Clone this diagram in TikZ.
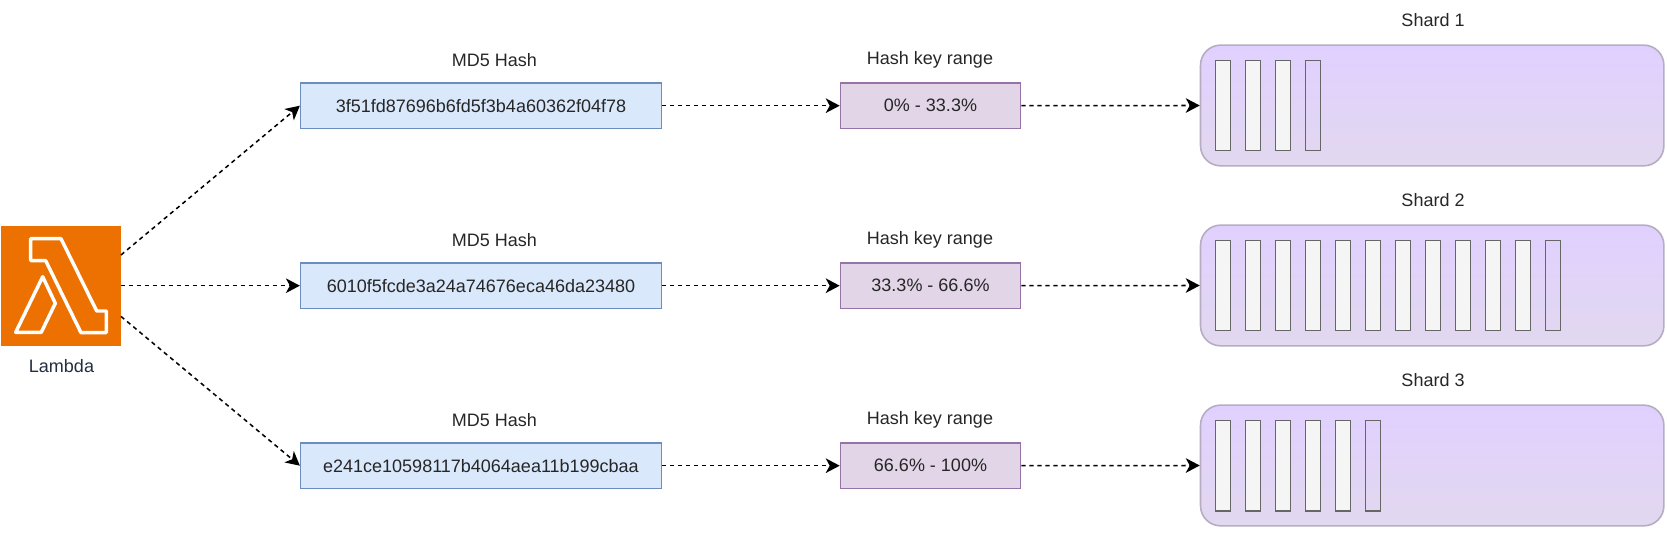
\documentclass[tikz,border=0pt]{standalone}
\usepackage{fontspec}
\setmainfont{Liberation Sans}
\usetikzlibrary{arrows.meta}
\definecolor{lambdaorange}{HTML}{ED7100}
\definecolor{lambdatext}{HTML}{232F3E}
\definecolor{hashfill}{HTML}{DAE8FC}
\definecolor{hashline}{HTML}{6C8EBF}
\definecolor{rangefill}{HTML}{E1D5E7}
\definecolor{rangeline}{HTML}{9673A6}
\definecolor{shardtop}{HTML}{E0D0FF}
\definecolor{shardbottom}{HTML}{E2D8EF}
\definecolor{shardline}{HTML}{B6ADC2}
\begin{document}
\begin{tikzpicture}[
	x=0.75pt, y=-0.75pt,
	lambdabox/.style={rectangle, fill=lambdaorange, minimum size=90pt, inner sep=0pt},
	hashbox/.style={rectangle, draw=hashline, fill=hashfill, line width=1.2pt, minimum width=270.5pt, minimum height=34pt, inner sep=0pt},
	rangebox/.style={rectangle, draw=rangeline, fill=rangefill, line width=1.2pt, minimum width=135pt, minimum height=34pt, inner sep=0pt},
	shardbox/.style={rectangle, rounded corners=15pt, draw=shardline, top color=shardtop, bottom color=shardbottom, line width=1.2pt, minimum width=347.5pt, minimum height=90.5pt, inner sep=0pt},
	barfull/.style={rectangle, draw=black!60, fill=black!4, line width=1.2pt, minimum width=11.5pt, minimum height=67.5pt, inner sep=0pt},
	barlast/.style={rectangle, draw=black!60, line width=1.2pt, minimum width=11.5pt, minimum height=67.5pt, inner sep=0pt},
	toplabel/.style={text=black!85, font=\fontsize{13.5}{16}\selectfont, inner sep=0pt},
	hasharrow/.style={-{Stealth[length=10.5pt,width=11pt,inset=3pt]}, black, line width=1.15pt, dash pattern=on 3.2pt off 2.8pt},
	]
	\useasboundingbox (0,0) rectangle (1667,534);

\node[lambdabox] (lambda) at (60.7,285.7) {};
\draw[white, line width=2.6pt, line join=round] (30.7,238.7) -- (61,238.7) -- (96.7,311) -- (106.3,311) -- (106.3,332.7) -- (81,332.7) -- (45.7,260.7) -- (30.7,260.7) -- cycle;
\draw[white, line width=2.6pt, line join=round] (42.7,276.7) -- (55.3,303.3) -- (41.3,332.3) -- (15.7,332.3) -- cycle;
\node[toplabel, text=lambdatext] (lambdalabel) at (61.5,366) {Lambda};

% first row
\node[toplabel] (hashlabel1) at (494.5,60) {MD5 Hash};
\node[hashbox, toplabel] (hash1) at (481,105.7) {3f51fd87696b6fd5f3b4a60362f04f78};
\node[toplabel] (rangelabel1) at (930,60) {Hash key range};
\node[rangebox, toplabel] (range1) at (930.5,105.7) {0\% - 33.3\%};
\node[toplabel] (shardlabel1) at (1433,20) {Shard 1};
\node[shardbox] (shard1) at (1432.2,105.5) {};
\node[barfull] (bar11) at (1223,105.7) {};
\node[barfull] (bar12) at (1253,105.7) {};
\node[barfull] (bar13) at (1283,105.7) {};
\node[barlast] (bar14) at (1313,105.7) {};

% second row
\node[toplabel] (hashlabel2) at (494.5,240) {MD5 Hash};
\node[hashbox, toplabel] (hash2) at (481,285.7) {6010f5fcde3a24a74676eca46da23480};
\node[toplabel] (rangelabel2) at (930,240) {Hash key range};
\node[rangebox, toplabel] (range2) at (930.5,285.7) {33.3\% - 66.6\%};
\node[toplabel] (shardlabel2) at (1433,200) {Shard 2};
\node[shardbox] (shard2) at (1432.2,285.5) {};
\node[barfull] (bar21) at (1223,285.7) {};
\node[barfull] (bar22) at (1253,285.7) {};
\node[barfull] (bar23) at (1283,285.7) {};
\node[barfull] (bar24) at (1313,285.7) {};
\node[barfull] (bar25) at (1343,285.7) {};
\node[barfull] (bar26) at (1373,285.7) {};
\node[barfull] (bar27) at (1403,285.7) {};
\node[barfull] (bar28) at (1433,285.7) {};
\node[barfull] (bar29) at (1463,285.7) {};
\node[barfull] (bar210) at (1493,285.7) {};
\node[barfull] (bar211) at (1523,285.7) {};
\node[barlast] (bar212) at (1553,285.7) {};

% third row
\node[toplabel] (hashlabel3) at (494.5,420) {MD5 Hash};
\node[hashbox, toplabel] (hash3) at (481,465.7) {e241ce10598117b4064aea11b199cbaa};
\node[toplabel] (rangelabel3) at (930,420) {Hash key range};
\node[rangebox, toplabel] (range3) at (930.5,465.7) {66.6\% - 100\%};
\node[toplabel] (shardlabel3) at (1433,380) {Shard 3};
\node[shardbox] (shard3) at (1432.2,465.5) {};
\node[barfull] (bar31) at (1223,465.7) {};
\node[barfull] (bar32) at (1253,465.7) {};
\node[barfull] (bar33) at (1283,465.7) {};
\node[barfull] (bar34) at (1313,465.7) {};
\node[barfull] (bar35) at (1343,465.7) {};
\node[barlast] (bar36) at (1373,465.7) {};

\draw[hasharrow] (lambda.27) -- (hash1.west);
\draw[hasharrow] (lambda.east) -- (hash2.west);
\draw[hasharrow] (lambda.-27) -- (hash3.west);
\draw[hasharrow] (hash1.east) -- (range1.west);
\draw[hasharrow] (hash2.east) -- (range2.west);
\draw[hasharrow] (hash3.east) -- (range3.west);
\draw[hasharrow] (range1.east) -- (shard1.west);
\draw[hasharrow] (range2.east) -- (shard2.west);
\draw[hasharrow] (range3.east) -- (shard3.west);

\end{tikzpicture}
\end{document}
